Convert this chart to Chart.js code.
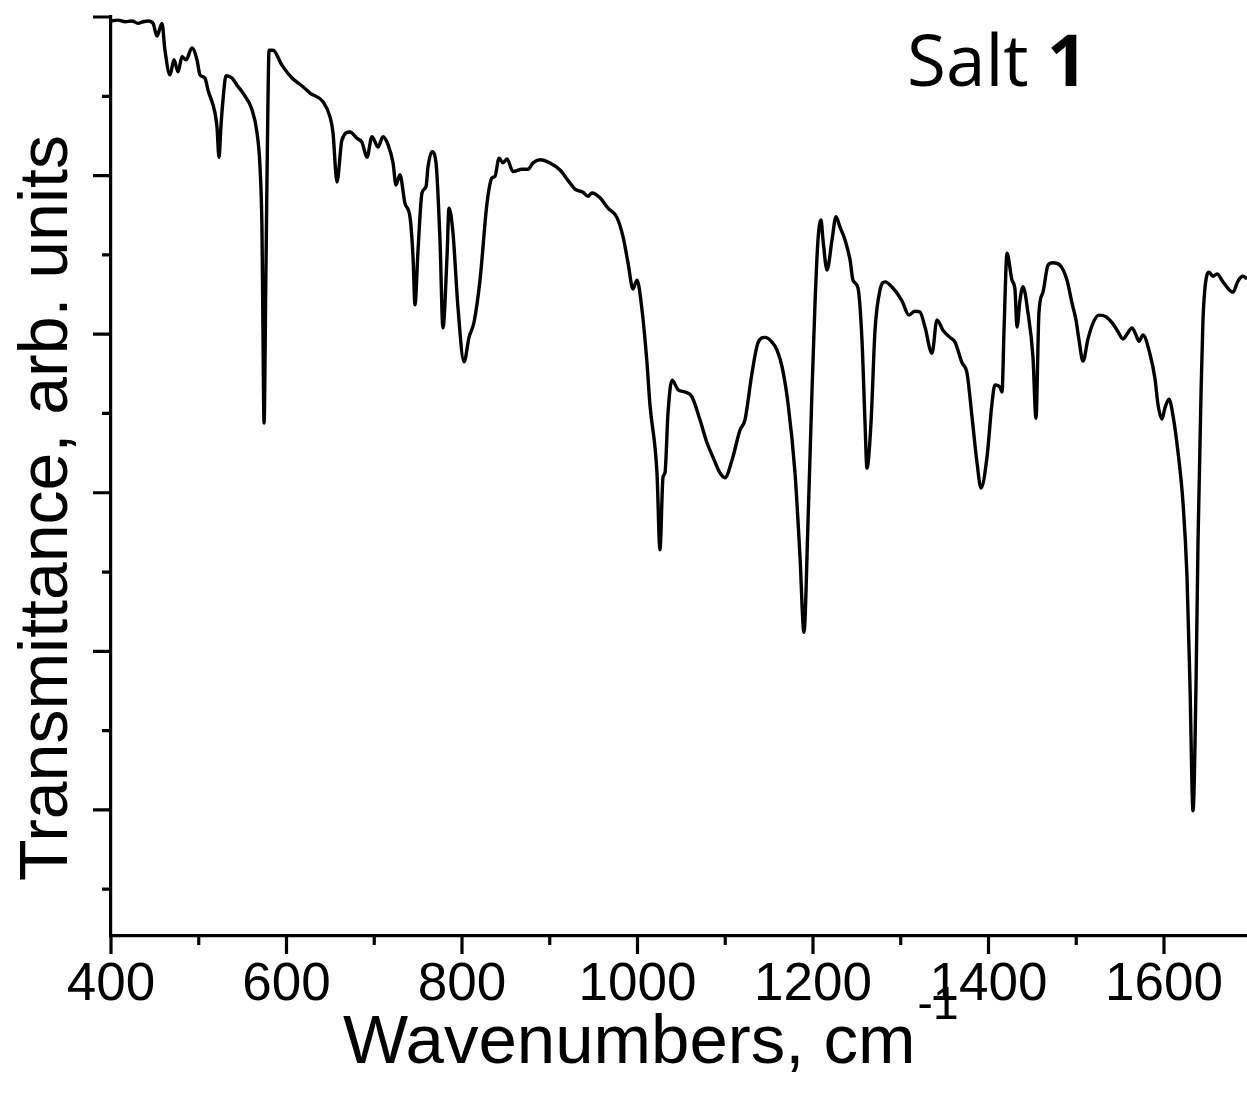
<!DOCTYPE html>
<html>
<head>
<meta charset="utf-8">
<script src="https://cdn.jsdelivr.net/npm/chart.js@4.4.0/dist/chart.umd.min.js"></script>
<style>
  html, body { margin: 0; padding: 0; background: #fff; }
</style>
</head>
<body>
<canvas id="irChart" width="1247" height="1093"></canvas>
<script>
// IR spectrum (wavenumber in cm-1, transmittance in arb. units)
const wavenumbers = [
  400.0, 408.0, 416.0, 423.9, 430.8, 436.5, 442.2, 447.9, 452.4, 455.8,
  458.1, 461.5, 467.2, 471.8, 476.4, 480.9, 485.5, 492.3, 498.0, 501.4,
  507.1, 510.5, 518.5, 520.8, 523.1, 525.4, 527.6, 531.1, 537.9, 543.6,
  550.4, 560.7, 566.4, 569.8, 572.1, 573.2, 574.4, 576.6, 578.9, 580.1,
  584.6, 594.9, 606.3, 618.8, 626.8, 641.6, 649.6, 653.0, 657.5, 663.2,
  672.4, 680.3, 686.0, 691.7, 697.4, 704.3, 710.0, 715.7, 721.4, 724.8,
  729.3, 735.0, 740.7, 744.2, 746.4, 749.9, 754.4, 759.0, 761.3, 765.8,
  770.4, 774.9, 778.3, 782.9, 785.2, 789.7, 795.4, 802.3, 808.0, 813.7,
  820.5, 828.5, 834.2, 837.6, 842.2, 846.7, 851.3, 858.1, 868.4, 875.2,
  880.9, 888.9, 900.3, 911.7, 920.8, 928.8, 937.9, 943.6, 948.1, 957.3,
  966.4, 976.6, 983.5, 989.2, 994.9, 999.4, 1005.1, 1010.8, 1014.2, 1022.2,
  1025.6, 1029.1, 1031.3, 1034.8, 1039.3, 1046.2, 1054.1, 1062.1, 1071.2, 1079.2,
  1086.0, 1094.0, 1099.7, 1107.7, 1116.8, 1122.5, 1130.5, 1137.3, 1145.3, 1153.3,
  1159.0, 1164.7, 1171.5, 1179.5, 1185.2, 1189.7, 1194.3, 1198.9, 1202.3, 1205.7,
  1209.1, 1211.4, 1216.0, 1221.7, 1226.2, 1230.8, 1236.5, 1242.2, 1245.6, 1251.3,
  1255.8, 1259.3, 1261.5, 1266.1, 1270.7, 1276.4, 1282.1, 1291.2, 1301.4, 1309.4,
  1316.2, 1321.9, 1327.6, 1335.6, 1341.3, 1348.1, 1356.1, 1361.8, 1369.8, 1375.5,
  1381.2, 1386.9, 1391.5, 1398.3, 1404.0, 1407.4, 1413.1, 1415.4, 1417.7, 1421.1,
  1426.8, 1430.2, 1432.5, 1435.9, 1439.3, 1445.0, 1450.7, 1454.1, 1457.5, 1462.1,
  1467.8, 1473.5, 1481.5, 1489.5, 1495.2, 1499.7, 1503.1, 1507.7, 1513.4, 1519.1,
  1525.9, 1533.9, 1541.9, 1547.6, 1553.3, 1559.0, 1563.5, 1568.1, 1571.5, 1576.1,
  1584.0, 1589.7, 1593.2, 1597.7, 1601.1, 1605.7, 1610.3, 1616.0, 1621.7, 1626.2,
  1629.6, 1633.1, 1636.5, 1638.8, 1642.2, 1644.4, 1649.0, 1651.3, 1655.8, 1660.4,
  1667.2, 1678.6, 1684.3, 1690.0, 1694.6
];
const transmittance = [
  99.5, 99.6, 99.4, 99.5, 99.2, 99.4, 99.5, 99.2, 97.6, 98.6,
  99.2, 95.8, 92.7, 94.6, 93.1, 95.0, 94.6, 96.1, 94.6, 92.7,
  92.3, 90.8, 87.9, 86.1, 82.3, 86.4, 89.5, 92.6, 92.3, 91.4,
  90.4, 88.3, 85.4, 81.1, 72.8, 60.2, 48.8, 68.5, 89.5, 95.8,
  95.8, 93.9, 92.3, 91.2, 90.4, 89.3, 87.4, 85.4, 79.2, 84.5,
  85.5, 84.7, 84.2, 82.3, 84.9, 83.6, 84.9, 83.9, 81.6, 78.8,
  80.1, 76.5, 74.8, 69.7, 63.7, 70.6, 77.8, 78.6, 81.1, 83.0,
  81.6, 71.9, 60.8, 69.7, 75.9, 72.8, 63.4, 56.5, 59.6, 61.5,
  66.8, 76.5, 79.7, 79.9, 82.2, 81.6, 82.1, 80.5, 80.8, 80.8,
  81.6, 82.0, 81.6, 80.7, 79.4, 78.3, 77.9, 77.4, 77.8, 77.2,
  75.9, 74.7, 72.3, 69.0, 65.7, 66.8, 63.1, 56.4, 51.1, 42.5,
  32.8, 42.0, 42.5, 50.1, 54.2, 53.0, 52.7, 52.1, 49.2, 46.3,
  44.5, 42.5, 41.9, 44.1, 47.9, 49.2, 55.1, 58.9, 59.6, 59.0,
  58.0, 55.9, 51.3, 42.5, 31.9, 22.4, 36.2, 53.0, 63.9, 71.9,
  74.4, 71.9, 68.1, 71.9, 74.8, 73.5, 71.9, 69.4, 66.8, 65.8,
  59.3, 48.8, 43.1, 48.8, 60.5, 65.6, 66.6, 65.8, 64.2, 62.4,
  62.9, 62.8, 60.9, 57.6, 61.8, 60.5, 59.6, 59.0, 56.4, 55.1,
  49.6, 43.8, 40.6, 44.5, 51.3, 53.6, 53.3, 52.7, 60.5, 70.2,
  66.8, 65.6, 60.9, 64.3, 66.0, 62.7, 57.1, 49.4, 62.7, 65.3,
  68.7, 69.0, 68.7, 66.8, 63.9, 61.8, 59.3, 56.6, 59.4, 61.4,
  62.4, 62.2, 61.3, 60.3, 59.4, 60.2, 60.8, 59.9, 59.1, 59.9,
  57.5, 54.4, 51.1, 49.3, 50.7, 51.8, 49.7, 45.1, 38.7, 29.5,
  15.8, -0.1, 15.8, 34.0, 52.5, 61.7, 67.5, 67.8, 67.3, 67.6,
  66.6, 65.3, 66.7, 67.3, 67.0
];

// tick marks (no y labels in the original)
const xMajorTicks = [400, 600, 800, 1000, 1200, 1400, 1600];
const xMinorTicks = [500, 700, 900, 1100, 1300, 1500];
const yMajorTicks = [0, 20, 40, 60, 80, 100];
const yMinorTicks = [-10, 10, 30, 50, 70, 90];

const points = wavenumbers.map((w, i) => ({ x: w, y: transmittance[i] }));

const FONT = "'Liberation Sans', Arial, sans-serif";

// outward tick marks + texts with superscript / mixed weight
const decor = {
  id: 'decor',
  afterDraw(chart) {
    const { ctx, chartArea, scales } = chart;
    const left = chartArea.left, bottom = chartArea.bottom;
    ctx.save();
    ctx.strokeStyle = '#000';
    ctx.lineWidth = 3.2;
    ctx.beginPath();
    yMajorTicks.forEach(v => {
      const y = scales.y.getPixelForValue(v);
      ctx.moveTo(left - 18, y); ctx.lineTo(left, y);
    });
    yMinorTicks.forEach(v => {
      const y = scales.y.getPixelForValue(v);
      ctx.moveTo(left - 9, y); ctx.lineTo(left, y);
    });
    xMajorTicks.forEach(v => {
      const x = scales.x.getPixelForValue(v);
      ctx.moveTo(x, bottom); ctx.lineTo(x, bottom + 18);
    });
    xMinorTicks.forEach(v => {
      const x = scales.x.getPixelForValue(v);
      ctx.moveTo(x, bottom); ctx.lineTo(x, bottom + 9);
    });
    ctx.stroke();

    ctx.fillStyle = '#000';
    ctx.textBaseline = 'alphabetic';

    // x title with superscript
    ctx.font = '69px ' + FONT;
    ctx.textAlign = 'left';
    const main = 'Wavenumbers, cm';
    ctx.fillText(main, 343, 1063);
    const mw = ctx.measureText(main).width;
    ctx.font = '46px ' + FONT;
    ctx.fillText('-1', 343 + mw + 2, 1019);

    // y title, rotated
    ctx.save();
    ctx.translate(67, 508);
    ctx.rotate(-Math.PI / 2);
    ctx.font = '68px ' + FONT;
    ctx.textAlign = 'center';
    ctx.fillText('Transmittance, arb. units', 0, 0);
    ctx.restore();

    // label "Salt 1"
    ctx.textAlign = 'left';
    ctx.font = "71px 'Open Sans', sans-serif";
    const salt = 'Salt ';
    ctx.fillText(salt, 907, 86);
    const sw = ctx.measureText(salt).width;
    ctx.font = "bold 71px 'Open Sans', sans-serif";
    ctx.fillText('1', 907 + sw, 86);

    ctx.restore();
  }
};

new Chart(document.getElementById('irChart'), {
  type: 'line',
  data: {
    datasets: [{
      data: points,
      borderColor: '#000',
      borderWidth: 3.4,
      pointRadius: 0,
      fill: false,
      cubicInterpolationMode: 'monotone'
    }]
  },
  options: {
    responsive: false,
    animation: false,
    layout: { autoPadding: false, padding: { top: 17, left: 0, right: 0, bottom: 0 } },
    plugins: { legend: { display: false }, tooltip: { enabled: false } },
    scales: {
      x: {
        type: 'linear',
        min: 400,
        max: 1694.6,
        grid: { display: false },
        border: { display: true, color: '#000', width: 3.2 },
        ticks: {
          stepSize: 200,
          includeBounds: false,
          autoSkip: false,
          maxRotation: 0,
          padding: 10,
          color: '#000',
          font: { family: FONT, size: 53 },
          callback: v => String(v)
        },
        afterFit(scale) { scale.height = 157; }
      },
      y: {
        type: 'linear',
        min: -15.9,
        max: 100,
        grid: { display: false },
        border: { display: true, color: '#000', width: 3.2 },
        ticks: { display: false },
        afterFit(scale) { scale.width = 111; }
      }
    }
  },
  plugins: [decor]
});
</script>
</body>
</html>
